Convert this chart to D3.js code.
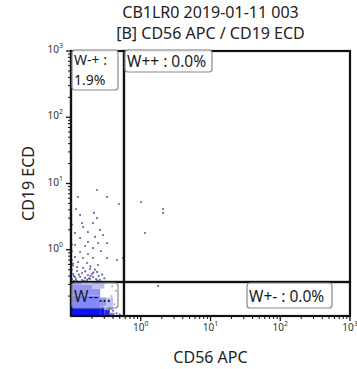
<!DOCTYPE html>
<html>
<head>
<meta charset="utf-8">
<script src="https://cdn.jsdelivr.net/npm/d3@7"></script>
<style>
  html, body { margin: 0; padding: 0; background: #fff; }
  svg { display: block; font-family: "Noto Sans", "Open Sans", sans-serif; }
</style>
</head>
<body>
<svg id="chart" width="357" height="369"></svg>
<script>
// Plot titles and axis names
const titleLines = ["CB1LR0 2019-01-11 003", "[B] CD56 APC / CD19 ECD"];
const xLabel = "CD56 APC";
const yLabel = "CD19 ECD";

// Both channels on a log scale, 10^-1 .. 10^3
const axisDomain = [0.1, 1000];
const majorExponents = [0, 1, 2, 3];

// Quadrant gate split points (CD56, CD19)
const gateX = 0.575;
const gateY = 0.326;

// Quadrant statistics labels
const quadrantNames = ["W-+", "W++", "W+-", "W--"];
const quadrantText = ["W-+ :|1.9%", "W++ : 0.0%", "W+- : 0.0%", "W--..."];

// Density of the crowded double-negative population: [x0, x1, y0, y1, level]
const densityCells = [
  [0.100, 0.262, 0.100, 0.205, 3],
  [0.262, 0.300, 0.100, 0.140, 3],
  [0.262, 0.320, 0.140, 0.190, 2],
  [0.300, 0.360, 0.100, 0.125, 2],
  [0.360, 0.420, 0.100, 0.112, 1],
  [0.100, 0.200, 0.205, 0.300, 2],
  [0.200, 0.262, 0.205, 0.260, 2],
  [0.200, 0.300, 0.260, 0.326, 1],
  [0.320, 0.400, 0.125, 0.190, 1],
  [0.100, 0.140, 0.300, 0.326, 2]
];

// Individual events outside the dense core: [CD56, CD19]
const eventsCD56 = [
  0.236, 0.126, 0.328, 0.488, 0.118, 0.214, 0.135, 0.236, 0.207, 0.144,
  0.149, 0.260, 0.175, 0.114, 0.288, 0.221, 0.135, 0.175, 0.244, 0.328,
  0.114, 0.159, 0.207, 0.269, 0.456, 0.556, 0.135, 0.175, 0.114, 0.149,
  0.207, 0.328, 0.126, 0.170, 0.244, 0.122, 0.149, 0.187, 0.236, 0.122,
  0.144, 0.175, 0.207, 0.114, 0.135, 0.159, 0.187, 0.118, 0.144,
  1.01, 2.09, 2.09, 1.15, 1.77,
  0.103, 0.103, 0.107, 0.103, 0.107, 0.110, 0.103, 0.110, 0.107, 0.103, 0.103,
  0.200, 0.190, 0.180, 0.170, 0.210, 0.230, 0.250, 0.260, 0.280, 0.160,
  0.130, 0.220, 0.190, 0.120, 0.155, 0.240, 0.300,
  0.380, 0.420, 0.400, 0.450, 0.360, 0.500, 0.350, 0.440, 0.390
];
const eventsCD19 = [
  7.98, 6.26, 6.26, 4.90, 4.12, 3.59, 3.35, 3.01, 2.53, 2.53,
  2.20, 1.99, 1.85, 1.79, 1.67, 1.56, 1.50, 1.31, 1.26, 1.26,
  1.18, 1.14, 1.06, 0.957, 0.700, 0.751, 0.925, 0.863, 0.777, 0.751,
  0.751, 0.751, 0.653, 0.631, 0.589, 0.549, 0.530, 0.512, 0.462, 0.478,
  0.446, 0.416, 0.388, 0.388, 0.388, 0.375, 0.362, 0.362, 0.349,
  5.26, 4.12, 3.59, 1.79, 0.284,
  0.95, 0.70, 0.58, 0.50, 0.43, 0.40, 0.36, 0.34, 0.62, 1.20, 2.40,
  0.43, 0.40, 0.37, 0.35, 0.45, 0.36, 0.40, 0.35, 0.42, 0.47,
  0.42, 0.50, 0.56, 0.34, 0.34, 0.34, 0.37,
  0.20, 0.15, 0.12, 0.11, 0.13, 0.105, 0.17, 0.24, 0.28
];

const levelColor = { 1: "#7c7cf0", 2: "#2a2ae6", 3: "#0a12ff" };

const W = 357, H = 369;
const margin = { top: 51, right: 7, bottom: 53, left: 71 };
const svg = d3.select("#chart");

const x = d3.scaleLog().domain(axisDomain).range([margin.left, W - margin.right]);
const y = d3.scaleLog().domain(axisDomain).range([H - margin.bottom, margin.top]);

// Titles
svg.append("g").selectAll("text").data(titleLines).join("text")
  .attr("x", (x.range()[0] + x.range()[1]) / 2)
  .attr("y", (d, i) => 18 + i * 21)
  .attr("text-anchor", "middle")
  .attr("font-size", 16)
  .attr("fill", "#222")
  .text(d => d);

// Density layer
const plot = svg.append("g");
plot.selectAll("rect.cell").data(densityCells).join("rect")
  .attr("class", "cell")
  .attr("x", d => x(d[0]))
  .attr("y", d => y(d[3]))
  .attr("width", d => x(d[1]) - x(d[0]))
  .attr("height", d => y(d[2]) - y(d[3]))
  .attr("fill", d => levelColor[d[4]]);

// Events
const events = eventsCD56.map((v, i) => [v, eventsCD19[i]]);
plot.selectAll("circle.ev").data(events).join("circle")
  .attr("class", "ev")
  .attr("cx", d => x(d[0]))
  .attr("cy", d => y(d[1]))
  .attr("r", 1.1)
  .attr("fill", "#34348c")
  .attr("opacity", 0.75);

// Quadrant gate rectangles
const [x0, x1] = x.range();
const [y0, y1] = [y.range()[1], y.range()[0]];
const quads = [
  [x0, y0, x(gateX), y(gateY)],
  [x(gateX), y0, x1, y(gateY)],
  [x(gateX), y(gateY), x1, y1],
  [x0, y(gateY), x(gateX), y1]
];
svg.append("g").selectAll("rect").data(quads).join("rect")
  .attr("x", d => d[0]).attr("y", d => d[1])
  .attr("width", d => d[2] - d[0]).attr("height", d => d[3] - d[1])
  .attr("fill", "none").attr("stroke", "#111").attr("stroke-width", 2.2);

// Axes with log minor ticks
function minorValues() {
  const out = [];
  for (let e = -1; e < 3; e++) for (let m = 2; m <= 9; m++) out.push(m * Math.pow(10, e));
  return out;
}
const majors = majorExponents.map(e => Math.pow(10, e));
const axG = svg.append("g").attr("stroke", "#111");

axG.append("line").attr("x1", x0).attr("x2", x1).attr("y1", y1).attr("y2", y1).attr("stroke-width", 2.2);
axG.append("line").attr("x1", x0).attr("x2", x0).attr("y1", y0).attr("y2", y1).attr("stroke-width", 2.2);

axG.selectAll("line.xmin").data(minorValues()).join("line")
  .attr("x1", d => x(d)).attr("x2", d => x(d)).attr("y1", y1).attr("y2", y1 + 3).attr("stroke-width", 1);
axG.selectAll("line.xmaj").data(majors).join("line")
  .attr("x1", d => x(d)).attr("x2", d => x(d)).attr("y1", y1).attr("y2", y1 + 5).attr("stroke-width", 1.3);
axG.selectAll("line.ymin").data(minorValues()).join("line")
  .attr("y1", d => y(d)).attr("y2", d => y(d)).attr("x1", x0).attr("x2", x0 - 3).attr("stroke-width", 1);
axG.selectAll("line.ymaj").data(majors).join("line")
  .attr("y1", d => y(d)).attr("y2", d => y(d)).attr("x1", x0).attr("x2", x0 - 5).attr("stroke-width", 1.3);

function powLabel(sel) {
  sel.append("tspan").text("10");
  sel.append("tspan").attr("font-size", 7).attr("dy", -5).text(d => Math.round(Math.log10(d)));
}
svg.append("g").selectAll("text").data(majors).join("text")
  .attr("x", d => x(d)).attr("y", y1 + 15)
  .attr("text-anchor", "middle").attr("font-size", 10).attr("fill", "#333")
  .call(powLabel);
svg.append("g").selectAll("text").data(majors).join("text")
  .attr("x", x0 - 8).attr("y", d => y(d) + 2)
  .attr("text-anchor", "end").attr("font-size", 10).attr("fill", "#333")
  .call(powLabel);

// Axis names
svg.append("text").attr("x", (x0 + x1) / 2).attr("y", 363)
  .attr("text-anchor", "middle").attr("font-size", 16).attr("fill", "#222").text(xLabel);
svg.append("text").attr("transform", `translate(34,${(y0 + y1) / 2}) rotate(-90)`)
  .attr("text-anchor", "middle").attr("font-size", 16).attr("fill", "#222").text(yLabel);

// Quadrant statistic boxes
const boxes = [
  { name: quadrantNames[0], x: x0 + 1, y: y0 - 1, w: 46, h: 40, fill: 0.92, size: 14 },
  { name: quadrantNames[1], x: x(gateX) + 1, y: y0 - 1, w: 87, h: 22, fill: 0.92, size: 15.5 },
  { name: quadrantNames[2], x: 247, y: y(gateY) + 1, w: 85, h: 25, fill: 0.92, size: 15.5 },
  { name: quadrantNames[3], x: x0 + 1, y: y(gateY) + 1, w: 46, h: 25, fill: 0.5, size: 15.5 }
];
const bg = svg.append("g");
boxes.forEach((b, i) => {
  bg.append("rect").attr("x", b.x).attr("y", b.y).attr("width", b.w).attr("height", b.h)
    .attr("rx", 3).attr("fill", "#fff").attr("fill-opacity", b.fill)
    .attr("stroke", "#8a8a8a").attr("stroke-width", 1.2);
  const lines = quadrantText[i].split("|");
  const top = b.h > 30 ? 15 : (b.h > 23 ? 19 : 17);
  lines.forEach((ln, j) => {
    bg.append("text").attr("x", b.x + 2).attr("y", b.y + top + j * 19.5)
      .attr("font-size", b.size).attr("fill", "#1a1a1a").text(ln);
  });
});
</script>
</body>
</html>
